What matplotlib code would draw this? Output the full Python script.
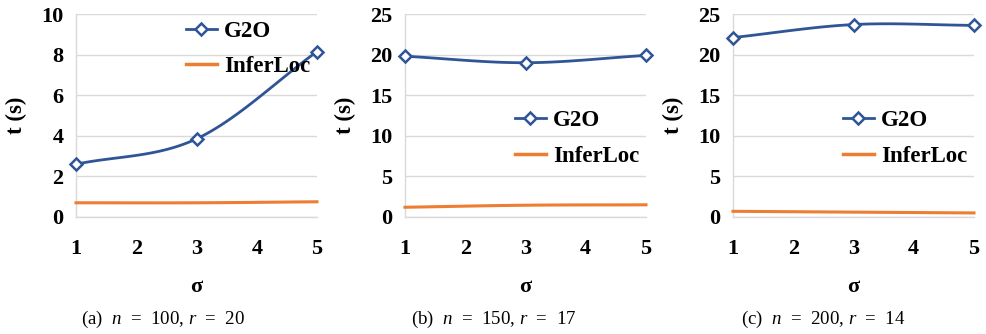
import numpy as np
import matplotlib
matplotlib.use("Agg")
import matplotlib.pyplot as plt

# ---------------- data ----------------
sigma = [1, 3, 5]

g2o_a = [2.6, 3.85, 8.15]
inferloc_a = [0.7, 0.7, 0.75]

g2o_b = [19.8, 19.0, 19.9]
inferloc_b = [1.2, 1.45, 1.5]

g2o_c = [22.1, 23.7, 23.6]
inferloc_c = [0.7, 0.6, 0.5]

captions = ["(a)  $n$  =  100, $r$  =  20", "(b)  $n$  =  150, $r$  =  17", "(c)  $n$  =  200, $r$  =  14"]
y_limits = [10, 25, 25]
y_steps = [2, 5, 5]
legend_top = [0.965, 0.525, 0.525]

BLUE = "#2F5597"
ORANGE = "#ED7D31"

plt.rcParams["font.family"] = "Liberation Serif"
plt.rcParams["mathtext.fontset"] = "custom"
plt.rcParams["mathtext.rm"] = "Liberation Serif"
plt.rcParams["mathtext.it"] = "Liberation Serif:italic"


def smooth(xs, ys, n=40):
    # Excel style smoothed line (Catmull-Rom through the points)
    xs = np.asarray(xs, float)
    ys = np.asarray(ys, float)
    px = np.concatenate([[2 * xs[0] - xs[1]], xs, [2 * xs[-1] - xs[-2]]])
    py = np.concatenate([[2 * ys[0] - ys[1]], ys, [2 * ys[-1] - ys[-2]]])
    out_x, out_y = [], []
    for i in range(1, len(px) - 2):
        t = np.linspace(0, 1, n)
        for arr, out in ((px, out_x), (py, out_y)):
            p0, p1, p2, p3 = arr[i - 1], arr[i], arr[i + 1], arr[i + 2]
            out.extend(0.5 * ((2 * p1) + (-p0 + p2) * t
                              + (2 * p0 - 5 * p1 + 4 * p2 - p3) * t ** 2
                              + (-p0 + 3 * p1 - 3 * p2 + p3) * t ** 3))
    return out_x, out_y


fig = plt.figure(figsize=(9.86, 3.34), dpi=100)
lefts = [76, 405, 733]
caption_x = [163, 494, 823]
series = [(g2o_a, inferloc_a), (g2o_b, inferloc_b), (g2o_c, inferloc_c)]

for k, (g2o, inf) in enumerate(series):
    ax = fig.add_axes([lefts[k] / 986, (334 - 217) / 334, 241 / 986, 203 / 334])

    gx, gy = smooth(sigma, g2o)
    ax.plot(gx, gy, color=BLUE, lw=2, zorder=3, clip_on=False)
    ax.plot(sigma, g2o, ls="none", marker="D", ms=6.5, mfc="white", mec=BLUE, mew=1.8,
            zorder=4, clip_on=False)
    ix, iy = smooth(sigma, inf)
    ax.plot(ix, iy, color=ORANGE, lw=2.2, zorder=3, clip_on=False)

    # legend proxies
    h1, = ax.plot([], [], color=BLUE, lw=2, marker="D", ms=6.5, mfc="white", mec=BLUE, mew=1.8)
    h2, = ax.plot([], [], color=ORANGE, lw=2.5)
    ax.legend([h1, h2], ["G2O", "InferLoc"], loc="upper left", bbox_to_anchor=(0.456, legend_top[k]),
              frameon=False, prop={"weight": "bold", "size": 16.5}, handlelength=1.35,
              handletextpad=0.3, labelspacing=0.62, borderpad=0, borderaxespad=0)

    ax.set_xlim(1, 5)
    ax.set_ylim(0, y_limits[k])
    ax.set_xticks([1, 2, 3, 4, 5])
    ax.set_yticks(np.arange(0, y_limits[k] + 1, y_steps[k]))
    ax.grid(axis="y", color="#D9D9D9", lw=1)
    ax.set_axisbelow(True)
    for s in ["top", "right"]:
        ax.spines[s].set_visible(False)
    for s in ["left", "bottom"]:
        ax.spines[s].set_color("#D9D9D9")
        ax.spines[s].set_linewidth(1)
    ax.tick_params(length=0, labelsize=16)
    ax.tick_params(axis="x", pad=16)
    ax.tick_params(axis="y", pad=9)
    for lab in ax.get_xticklabels() + ax.get_yticklabels():
        lab.set_fontweight("bold")

    ax.set_ylabel("t (s)", fontsize=16.5, fontweight="bold")
    ax.yaxis.set_label_coords(-0.203, 0.5)
    ax.set_xlabel("σ", fontsize=16, fontweight="bold")
    ax.xaxis.set_label_coords(0.5, -0.296)
    fig.text(caption_x[k] / 986, 1 - 319 / 334, captions[k], ha="center", va="center", fontsize=13.6)

fig.savefig("out.png", dpi=100)
